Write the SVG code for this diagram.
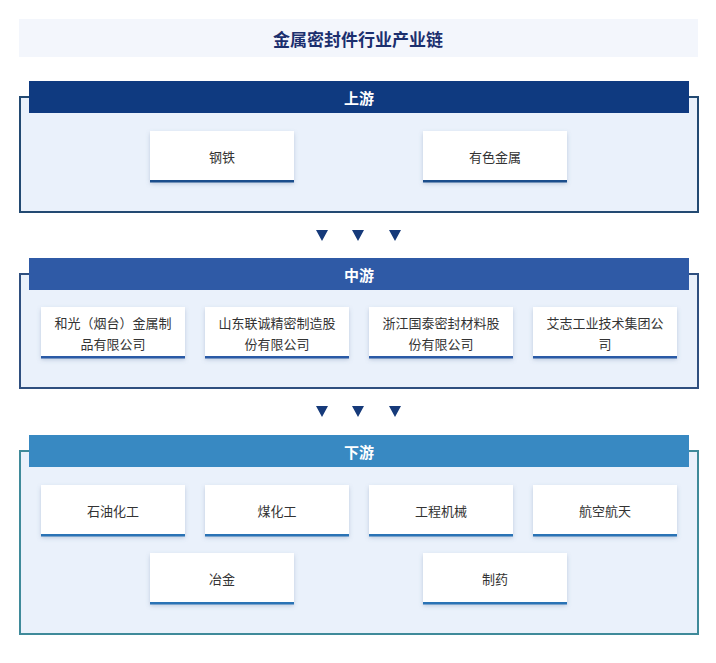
<svg xmlns="http://www.w3.org/2000/svg" width="716" height="663" viewBox="0 0 716 663">
<defs>
<filter id="sh" x="-10%" y="-10%" width="120%" height="130%"><feDropShadow dx="0" dy="2" stdDeviation="2" flood-color="#5a7199" flood-opacity="0.3"/></filter>
<style>
text{font-family:"Noto Sans CJK SC","Noto Sans",sans-serif;text-anchor:middle;dominant-baseline:central}
.hd{fill:#fff;font-size:15px;font-weight:bold}
.nt{font-size:13px;fill:#333}
.nb{fill:#fff;filter:url(#sh)}
.ar{fill:#163a7a}
</style>
</defs>
<rect x="0" y="0" width="716" height="663" fill="#fff"/>
<g id="title"><rect x="19" y="19" width="679" height="38" fill="#f3f6fc"/><text x="358" y="38" font-size="17" font-weight="bold" fill="#1b2f6e">金属密封件行业产业链</text></g>
<g id="upstream">
<rect x="20" y="97" width="678" height="115" fill="#eaf1fb" stroke="#234a72" stroke-width="2"/>
<rect x="29" y="81" width="660" height="32" fill="#0f3a80"/><text class="hd" x="359" y="97">上游</text>
</g>
<g id="n-steel"><rect class="nb" x="150" y="131" width="144" height="51"/><rect x="150" y="180" width="144" height="2.5" fill="#1b4e8c"/><text class="nt" x="222" y="156" fill="#1f2f55">钢铁</text></g>
<g id="n-nonferrous"><rect class="nb" x="423" y="131" width="144" height="51"/><rect x="423" y="180" width="144" height="2.5" fill="#1b4e8c"/><text class="nt" x="495" y="156">有色金属</text></g>
<g id="connectors">
<path class="ar" d="M316 230h12l-6 11z M352 230h12l-6 11z M389 230h12l-6 11z"/>
<path class="ar" d="M316 406h12l-6 11z M352 406h12l-6 11z M389 406h12l-6 11z"/>
</g>
<g id="midstream">
<rect x="20" y="274" width="678" height="114" fill="#eaf1fb" stroke="#2f4f7f" stroke-width="2"/>
<rect x="29" y="258" width="660" height="32" fill="#2f5aa6"/><text class="hd" x="359" y="274">中游</text>
</g>
<g id="n-m1"><rect class="nb" x="41" y="307" width="144" height="51"/><rect x="41" y="356" width="144" height="2.5" fill="#2a5aa6"/><text class="nt" x="113" y="322">和光（烟台）金属制</text><text class="nt" x="113" y="343">品有限公司</text></g>
<g id="n-m2"><rect class="nb" x="205" y="307" width="144" height="51"/><rect x="205" y="356" width="144" height="2.5" fill="#2a5aa6"/><text class="nt" x="277" y="322">山东联诚精密制造股</text><text class="nt" x="277" y="343">份有限公司</text></g>
<g id="n-m3"><rect class="nb" x="369" y="307" width="144" height="51"/><rect x="369" y="356" width="144" height="2.5" fill="#2a5aa6"/><text class="nt" x="441" y="322">浙江国泰密封材料股</text><text class="nt" x="441" y="343">份有限公司</text></g>
<g id="n-m4"><rect class="nb" x="533" y="307" width="144" height="51"/><rect x="533" y="356" width="144" height="2.5" fill="#2a5aa6"/><text class="nt" x="605" y="322">艾志工业技术集团公</text><text class="nt" x="605" y="343">司</text></g>
<g id="downstream">
<rect x="20" y="451" width="678" height="183" fill="#eaf1fb" stroke="#3f8a9a" stroke-width="2"/>
<rect x="29" y="435" width="660" height="32" fill="#3889c2"/><text class="hd" x="359" y="451">下游</text>
</g>
<g id="n-d1"><rect class="nb" x="41" y="485" width="144" height="51"/><rect x="41" y="534" width="144" height="2.5" fill="#2a73b5"/><text class="nt" x="113" y="510">石油化工</text></g>
<g id="n-d2"><rect class="nb" x="205" y="485" width="144" height="51"/><rect x="205" y="534" width="144" height="2.5" fill="#2a73b5"/><text class="nt" x="277" y="510">煤化工</text></g>
<g id="n-d3"><rect class="nb" x="369" y="485" width="144" height="51"/><rect x="369" y="534" width="144" height="2.5" fill="#2a73b5"/><text class="nt" x="441" y="510">工程机械</text></g>
<g id="n-d4"><rect class="nb" x="533" y="485" width="144" height="51"/><rect x="533" y="534" width="144" height="2.5" fill="#2a73b5"/><text class="nt" x="605" y="510">航空航天</text></g>
<g id="n-d5"><rect class="nb" x="150" y="553" width="144" height="51"/><rect x="150" y="602" width="144" height="2.5" fill="#2a73b5"/><text class="nt" x="222" y="578">冶金</text></g>
<g id="n-d6"><rect class="nb" x="423" y="553" width="144" height="51"/><rect x="423" y="602" width="144" height="2.5" fill="#2a73b5"/><text class="nt" x="495" y="578">制药</text></g>
</svg>
